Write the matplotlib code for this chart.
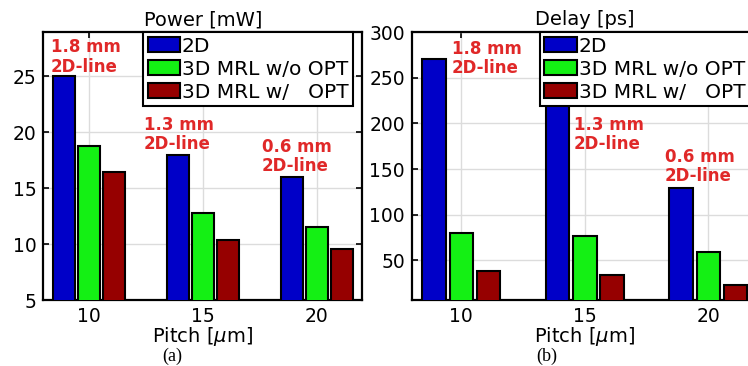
import numpy as np
from matplotlib import pyplot as plt

plt.rcParams['font.family'] = ['DejaVu Sans']

pitch = [10, 15, 20]
series_names = ["2D", "3D MRL w/o OPT", "3D MRL w/   OPT"]
power_2d = [25.0, 18.0, 16.0]
power_wo_opt = [18.8, 12.8, 11.5]
power_w_opt = [16.4, 10.4, 9.6]
delay_2d = [271, 230, 129]
delay_wo_opt = [80, 77, 59]
delay_w_opt = [38, 34, 23]
line_labels = ["1.8 mm\n2D-line", "1.3 mm\n2D-line", "0.6 mm\n2D-line"]

colors = ["#0000c8", "#14f014", "#960000"]
offsets = [-1.1, 0.0, 1.1]
bar_w = 0.95


def draw_panel(ax, values, title, ylim, yticks, label_pos, legend_x):
    x = np.array(pitch, dtype=float)
    for vals, off, col, name in zip(values, offsets, colors, series_names):
        ax.bar(x + off, vals, bar_w, color=col, edgecolor='black',
               linewidth=1.5, label=name, zorder=3)
    for txt, (tx, ty) in zip(line_labels, label_pos):
        ax.text(tx, ty, txt, color='#e02828', fontsize=12, fontweight='bold',
                ha='left', va='center', linespacing=1.1, zorder=4)
    ax.set_xlim(8, 22)
    ax.set_ylim(*ylim)
    ax.set_xticks(pitch)
    ax.set_yticks(yticks)
    ax.grid(True, color='#dcdcdc', linewidth=1, zorder=0)
    ax.set_axisbelow(True)
    ax.tick_params(direction='in', top=True, right=True, length=4,
                   width=1.2, labelsize=13.5, pad=5)
    for s in ax.spines.values():
        s.set_linewidth(1.6)
    ax.set_title(title, fontsize=14, pad=5)
    ax.set_xlabel("Pitch [$\\mu$m]", fontsize=14, labelpad=-1)
    leg = ax.legend(loc='upper left', bbox_to_anchor=(legend_x, 1.0),
                    borderaxespad=0, fancybox=False, edgecolor='black',
                    framealpha=1, fontsize=14.5, handlelength=1.6,
                    handleheight=0.75, handletextpad=0.1, labelspacing=0.2,
                    borderpad=0.22)
    leg.get_frame().set_linewidth(1.5)
    leg.set_zorder(5)


fig = plt.figure(figsize=(7.48, 3.66), dpi=100)
ax1 = fig.add_axes([0.0579, 0.1795, 0.4265, 0.7322])
ax2 = fig.add_axes([0.5507, 0.1795, 0.4623, 0.7322])

draw_panel(ax1, [power_2d, power_wo_opt, power_w_opt], "Power [mW]",
           (5, 28.9), [5, 10, 15, 20, 25],
           [(8.33, 26.7), (12.42, 19.8), (17.58, 17.8)], 0.3135)
draw_panel(ax2, [delay_2d, delay_wo_opt, delay_w_opt], "Delay [ps]",
           (6, 300), [50, 100, 150, 200, 250, 300],
           [(9.62, 271), (14.56, 188), (18.24, 153)], 0.37)

fig.text(0.230, 0.004, "(a)", family='Liberation Serif', fontsize=13,
         ha='center', va='bottom')
fig.text(0.731, 0.004, "(b)", family='Liberation Serif', fontsize=13,
         ha='center', va='bottom')

fig.savefig("out.png", dpi=100)
